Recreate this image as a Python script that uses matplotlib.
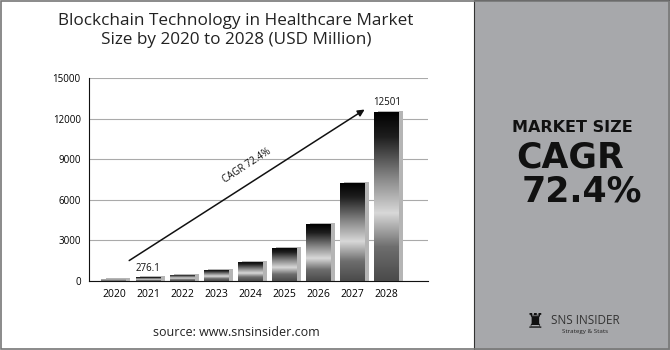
import matplotlib
matplotlib.use("Agg")
import matplotlib.pyplot as plt
import numpy as np
from matplotlib.colors import LinearSegmentedColormap
from matplotlib.patches import Rectangle

years = ["2020", "2021", "2022", "2023", "2024", "2025", "2026", "2027", "2028"]
values = [160, 276.1, 476, 821, 1415, 2440, 4206, 7251, 12501]
labels = {1: "276.1", 8: "12501"}
yticks = [0, 3000, 6000, 9000, 12000, 15000]

font = ["Open Sans", "DejaVu Sans"]
plt.rcParams["font.family"] = font

fig = plt.figure(figsize=(6.7, 3.5), dpi=100)
fig.patch.set_facecolor("white")

# right grey panel
fig.patches.append(Rectangle((474/670, 0), 1 - 474/670, 1, transform=fig.transFigure,
                             facecolor="#a7a8ab", edgecolor="#333333", lw=0.8, zorder=0))
# outer border
fig.patches.append(Rectangle((0.001, 0.002), 0.998, 0.996, transform=fig.transFigure,
                             fill=False, edgecolor="#777777", lw=1.2, zorder=5))

ax = fig.add_axes([89/670, 1 - 281/350, (428 - 89)/670, (281 - 78)/350])
x = np.arange(len(years))
w = 0.73

cmap = LinearSegmentedColormap.from_list("metal", [
    (0.0, "#4a4a4a"), (0.2, "#6e6e6e"), (0.4, "#d8d8d8"), (0.6, "#8a8a8a"),
    (0.85, "#1e1e1e"), (1.0, "#000000")])
grad = np.linspace(0, 1, 256).reshape(-1, 1)

# shadow bars
ax.bar(x + 0.12, np.array(values) + 60, width=w, color="#b5b5b5", zorder=2)
bars = ax.bar(x, values, width=w, color="none", zorder=3)
for b in bars:
    x0, y0 = b.get_x(), b.get_y()
    im = ax.imshow(grad, extent=[x0, x0 + b.get_width(), y0, y0 + b.get_height()],
                   origin="lower", aspect="auto", cmap=cmap, zorder=3)
    im.set_clip_path(b)
ax.set_xlim(-0.73, 9.21)
ax.set_ylim(0, 15000)

for i, t in labels.items():
    ax.text(x[i], values[i] + 250, t, ha="center", va="bottom", fontsize=7, color="#111111")

ax.set_yticks(yticks)
ax.set_yticklabels([str(v) for v in yticks], fontsize=7)
ax.set_xticks(x)
ax.set_xticklabels(years, fontsize=7.5)
ax.tick_params(length=0, pad=6)
ax.yaxis.grid(True, color="#aaaaaa", lw=0.8)
ax.set_axisbelow(True)
for s in ["top", "right"]:
    ax.spines[s].set_visible(False)
ax.spines["left"].set_color("#111111")
ax.spines["bottom"].set_color("#111111")

ax.annotate("", xy=(7.42, 12780), xytext=(0.38, 1400),
            arrowprops=dict(arrowstyle="-|>", color="#111111", lw=1.1, mutation_scale=10), zorder=4)
ax.text(3.9, 8500, "CAGR 72.4%", rotation=33, ha="center", va="center", fontsize=7, color="#111111")

fig.text(236/670, 1 - 21/350, "Blockchain Technology in Healthcare Market", ha="center", va="center",
         fontsize=12.3, color="#222222")
fig.text(236/670, 1 - 40/350, "Size by 2020 to 2028 (USD Million)", ha="center", va="center",
         fontsize=12.3, color="#222222")
fig.text(236/670, 1 - 332/350, "source: www.snsinsider.com", ha="center", va="center",
         fontsize=9, color="#222222")

bold = ["DejaVu Sans"]
fig.text(572/670, 1 - 128/350, "MARKET SIZE", ha="center", va="center", fontsize=11.5,
         fontweight="bold", color="#111111", family=bold)
fig.text(570/670, 1 - 158/350, "CAGR", ha="center", va="center", fontsize=25,
         fontweight="bold", color="#111111", family=bold)
fig.text(582/670, 1 - 192/350, "72.4%", ha="center", va="center", fontsize=25,
         fontweight="bold", color="#111111", family=bold)

fig.text(535/670, 1 - 322/350, "\u265c", ha="center", va="center", fontsize=15, color="#111111",
         family=["DejaVu Sans"])
fig.text(585/670, 1 - 320/350, "SNS INSIDER", ha="center", va="center", fontsize=8.5, color="#333333")
fig.text(585/670, 1 - 332/350, "Strategy & Stats", ha="center", va="center", fontsize=4.5,
         color="#222222")

fig.savefig("out.png", dpi=100)
